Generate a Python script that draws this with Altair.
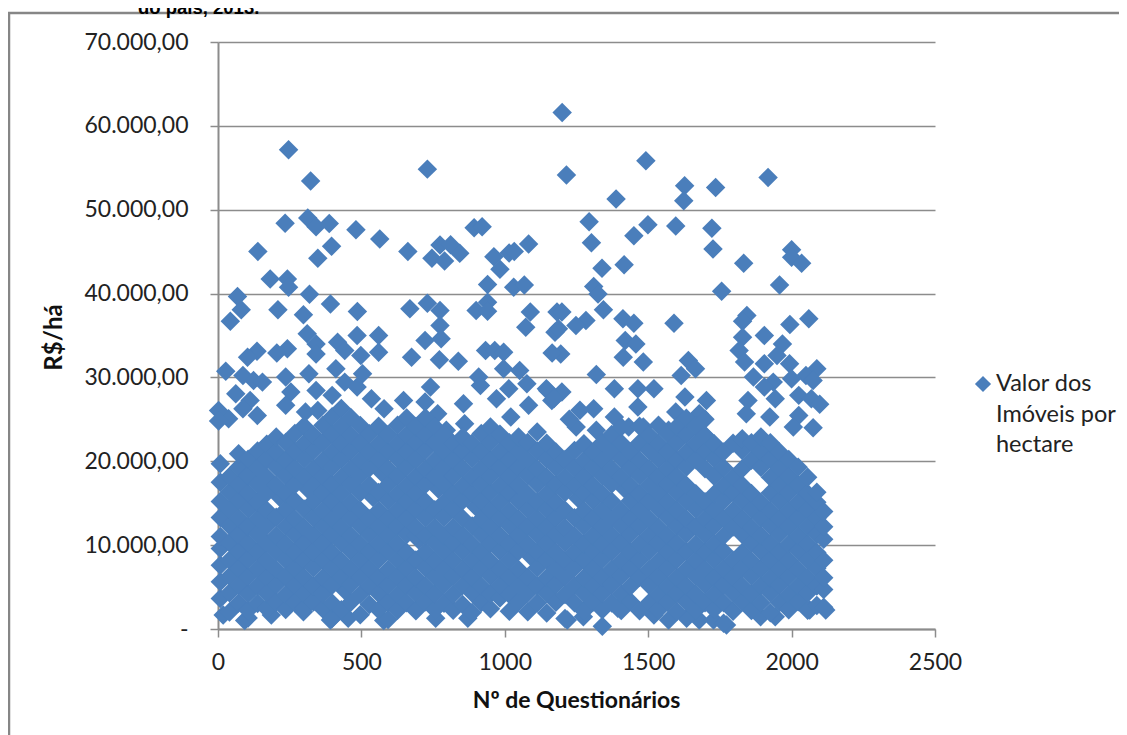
import altair as alt
import pandas as pd

SPARSE_X = [246,323,730,1200,1215,234,313,342,388,481,564,139,396,348,662,774,746,790,811,843,893,921,962,983,1015,1033,1083,940,1031,1068,
68,81,43,182,242,246,319,209,298,392,486,669,730,774,774,900,940,940,1089,1073,1182,
1492,1388,1627,1735,1918,1624,1294,1499,1596,1722,1450,1302,1726,1339,1416,1833,2000,2000,2035,1310,1325,1344,1756,1958,1412,1450,1283,1248,1590,1844,1829,1994,2060,1199,
136,103,242,205,311,342,342,417,442,498,560,560,485,722,778,675,772,838,933,965,996,
27,87,124,155,62,112,87,37,2,2,137,236,254,236,317,342,305,348,411,442,504,485,398,535,741,722,647,579,766,856,796,860,909,915,996,1052,1077,971,1014,1021,1083,1145,1164,
1420,1457,1413,1483,1319,1382,1464,1520,1464,1640,1665,1615,1628,1703,1596,1678,1697,1829,1817,1836,1905,1968,1949,1905,1993,2088,1867,1936,1905,2050,2000,2075,1848,1842,1943,2025,2069,2098,2025,2006,2075,1924,1310,1249,1319,1432,1483,1382,1571,1195,1199,1165,1175,1187,1150,1172,1225,1262,
215,312,540,572,700,768,898,1092,1255,1418,442,
18,93,392,454,578,759,871,298,186,1571,1678,1773,1892,1943,2063,2119,1274,1218,1394,1520,1634,1728]
SPARSE_Y = [57140,53410,54840,61600,54130,48400,49000,47980,48370,47620,46510,45030,45630,44200,45030,45790,44200,43890,45830,44800,47860,47980,44400,42900,44840,45030,45900,41070,40750,41030,
39640,38060,36700,41750,41750,40750,39920,38060,37460,38770,37860,38180,38850,37980,36190,37980,38970,37900,37790,35990,37790,
55830,51270,52860,52660,53850,51070,48570,48210,48060,47780,46900,46070,45320,43010,43450,43610,45240,44320,43610,40830,39960,38060,40270,41030,36990,36460,36790,36190,36460,37380,36700,36310,36990,37790,
33130,32420,33410,32900,35200,34000,32800,34200,33200,32620,33000,35000,35000,34400,34600,32420,32100,31940,33200,33200,33000,
30750,30240,29640,29440,28050,27260,26270,25080,26070,24800,25470,30040,28250,26670,30430,28450,25870,26070,31030,29440,30430,28850,27860,27460,28850,27060,27260,26270,25670,26860,23690,24480,30040,29050,31030,30830,29240,27460,28650,25280,26670,28650,27260,
34400,34000,32420,31830,30360,28650,28650,28650,26470,32020,31030,30240,27660,27260,25870,25670,23090,34800,33200,31830,35000,34000,32620,31630,31630,31030,30040,29440,28850,30240,29840,29640,27260,25670,27460,27860,27460,26790,25470,24090,24010,25280,26270,24090,23690,24090,24090,25280,23690,32800,28250,32900,35400,35800,28400,27500,25000,26100,
15700,16700,15700,18600,10600,16700,14600,8600,15600,16700,4600,
1670,1000,1080,1270,1000,1270,1270,2060,1670,1070,1070,480,1470,1470,2260,2260,1470,1070,2460,1670,1270,1070]

DENSE_X = [8,40,72,105,138,170,203,236,268,300,333,366,398,430,463,496,528,560,593,626,658,690,723,756,788,820,853,886,918,950,983,1016,1048,1080,1113,1146,1178,1210,1243,1276,1308,1340,1373,1406,1438,1470,1503,1536,1568,1600,1633,1666,1698,1730,1763,1796,1828,1860,1893,1926,1958,1990,2023,2056,2088,2112]
DENSE_Y = [
[3650,5620,7600,9610,11040,13300,15210,17500,19700],
[2020,4310,6290,8220,10300,12310,14280,16330,18190],
[3110,5180,7230,9270,11210,13190,15310,17220,19280,20900],
[1320,2210,4190,6240,8280,10230,12210,14300,16190,18310,20240],
[3040,5120,7190,9210,11330,13180,15120,17290,19230,21240],
[2410,4220,6170,8130,10240,12290,14170,16210,18120,20190,22030],
[3230,5280,7110,9240,11120,13320,17130,19310,21090,22900],
[2330,4120,6230,8260,10090,12210,14230,16120,18280,20130,22240],
[3120,5210,7170,9130,11230,13110,15280,17190,19120,21210,23310],
[2480,4210,6130,8190,10220,12090,14310,18120,20280,22110,24200],
[3210,5130,7280,9190,11180,13230,15220,17210,19140,21280,23120],
[2370,4230,6110,8240,10190,12270,14130,16280,18210,20110,22230,24310],
[1240,3110,5210,7230,9130,11290,13120,15190,17240,19310,21120,23210,25300],
[2290,6180,8110,10280,12140,14260,16190,18130,20240,22120,24190,26300],
[3180,5280,7140,9270,11120,13240,15110,17290,19130,21220,23130,25210],
[1710,4120,6230,8190,10110,12280,14170,16240,18300,20120,22190,24270],
[2920,5110,7190,9230,11280,13130,17170,19210,21110,23280],
[2310,4240,6120,8280,10170,12230,14140,16290,20210,22120,24180],
[1130,3180,5230,7110,9290,11210,13140,15280,17190,19120,21230,23190],
[2240,4110,6270,8190,10130,12290,14180,16110,18240,20280,22130,24300],
[3120,5190,7240,9110,11280,13170,15230,17120,19290,21180,23120,25150],
[2190,4280,6130,8230,11180,12140,14290,16170,18130,20220,22280,24160],
[3240,5110,7290,9170,11130,13280,15190,17240,19110,21290,23170,25200],
[2310,4170,6240,8120,10290,12130,14210,18190,20130,22240,24120],
[3080,5280,7130,9220,11110,13290,15120,17210,19280,21130,23220],
[2240,4120,6290,8170,10230,12110,14280,16130,18240,20170,22110],
[2910,5190,7110,9280,11140,13210,15290,17120,19180,21240,22900],
[1970,4280,6140,8210,10120,12280,16190,18110,20290,22140],
[3150,5110,7230,9140,11290,13130,15220,17280,19130,21210,23300],
[2420,4190,6280,8110,10240,12170,14130,16280,18210,20110,22280,24100],
[3700,5230,7130,9290,11110,13240,15180,17110,19290,21170,23220],
[2120,4110,6240,8190,10130,12280,14110,16240,18180,20130,22210],
[3240,5190,7110,9280,11170,13110,15280,17130,19240,21180,22900],
[2060,4280,6170,10120,12230,14290,16110,18290,20140,22230],
[3110,5120,7290,9140,11230,13170,15110,17280,19110,21240,23500],
[1900,4230,6110,8280,10190,12130,14280,16170,18110,20280,22150],
[3190,5280,7170,9120,11290,13230,15120,17190,19280,21120],
[1260,4110,6230,8130,10280,12110,14170,16280,18130,20210],
[3120,5170,7290,9180,11110,13280,17120,19230,21290],
[2140,4280,6110,8230,10170,12280,14110,16240,18170,20130,22100],
[3210,5130,7180,9290,11120,13170,15280,17110,19290,21150],
[340,2300,4240,6130,8290,10110,12230,14170,16120,18280,20180,22240],
[3110,5290,7120,9230,11180,13110,15240,17290,19120,21230,23200],
[2210,4170,6280,8110,10230,12290,14130,18110,20280,22180,24100],
[3280,5110,7230,9170,11290,13140,15280,17120,19230,21110],
[2190,6170,8240,10120,12280,14170,16110,18290,20130,22210,24180],
[3140,5230,7110,9290,11180,13110,15240,17170,19110,21290,23120],
[2280,4120,6190,8130,10270,12110,14280,16190,18120,20240,22110,24300],
[3210,5110,7280,9170,11110,13290,15140,17280,19130,21180,23270],
[2110,4230,6140,8290,10180,12240,14120,16290,18170,20110,22240,24110],
[3290,5170,7120,9230,11290,13110,15230,17140,19290,21120,23180,25120],
[2250,4110,6280,8170,10110,12230,14290,16120,20180,22130,24240],
[3120,5290,7130,9180,11240,13120,15170,19110,21230,23110,25000],
[2340,4180,6110,8260,10130,12280,14190,16110,18230,20290,22100],
[700,3140,5240,7170,9290,11120,13180,15280,17110,19230,21120],
[2120,4280,6130,8190,12170,14110,16280,18140,22160],
[3240,5110,7230,9110,11280,13140,15230,17180,19110,21280,22700],
[2200,4170,6290,8120,10240,12110,14280,16170,20130,22210],
[3110,5190,7170,9280,11130,13240,15110,19290,21180,22900],
[1950,4280,6110,8230,10190,12280,14130,16240,18110,20280,22200],
[3170,5240,7130,9180,11290,13110,15280,17130,19210,21100],
[2300,4110,6280,8170,10110,12230,14170,16290,18180,20220],
[3240,5170,7110,9290,11120,13280,15140,17210,19300],
[2230,4290,6120,8240,10130,12180,14290,16170,18110],
[2800,5130,7240,9120,11280,13190,15120,16300],
[2600,4700,6100,8200,10700,12200,14000]]

rows = [{"n": x, "v": y} for x, y in zip(SPARSE_X, SPARSE_Y)]
for x, ys in zip(DENSE_X, DENSE_Y):
    rows += [{"n": x, "v": y} for y in ys]
data = pd.DataFrame(rows)

Y_TICKS = [0, 10000, 20000, 30000, 40000, 50000, 60000, 70000]
X_TICKS = [0, 500, 1000, 1500, 2000, 2500]
LEGEND_LINES = ["Valor dos", "Imóveis por", "hectare"]
TITLE_TAIL = "do país, 2013."
AXIS_FONT = "Lato"
BLUE = "#4A7EBB"
GRID = "#8C8C8C"

base = alt.Chart(data)
points = base.mark_point(shape="diamond", filled=True, size=380, color=BLUE, opacity=1, strokeWidth=0).encode(
    x=alt.X("n:Q", scale=alt.Scale(domain=[0, 2500], nice=False),
            axis=alt.Axis(values=X_TICKS, grid=False, title="Nº de Questionários", titleFont=AXIS_FONT,
                          titleFontSize=23, titleFontWeight="bold", titleColor="#111",
                          titleX=358, titleY=60, labelFont=AXIS_FONT, labelFontSize=23, labelColor="#222",
                          labelPadding=14, tickSize=8, tickColor=GRID, domainColor=GRID, tickWidth=1.5,
                          domainWidth=2, labelFlush=False, format="d")),
    y=alt.Y("v:Q", scale=alt.Scale(domain=[0, 70000], nice=False),
            axis=alt.Axis(values=Y_TICKS, grid=True, gridColor=GRID, gridWidth=1.5, title="R$/há",
                          titleFont=AXIS_FONT, titleFontSize=24, titleFontWeight="bold", titleColor="#111",
                          titleX=-152, titleY=295, labelFont=AXIS_FONT, labelFontSize=23, labelColor="#222",
                          labelPadding=22, tickSize=8, tickColor=GRID, domainColor=GRID, tickWidth=1.5,
                          domainWidth=2,
                          labelExpr="datum.value == 0 ? '-\u00a0\u00a0\u00a0\u00a0' : format(datum.value / 1000, 'd') + '.000,00'")),
)

one = alt.Chart(pd.DataFrame({"a": [0]}))
frame_top = one.mark_rule(color="#868686", strokeWidth=2.5).encode(
    x=alt.value(-210), x2=alt.value(901), y=alt.value(-29))
frame_left = one.mark_rule(color="#868686", strokeWidth=2.5).encode(
    x=alt.value(-209), y=alt.value(-30), y2=alt.value(693))
title_tail = one.mark_text(font="Liberation Sans", fontWeight="bold", fontSize=18.5, align="left", color="#000").encode(
    x=alt.value(-80), y=alt.value(-34), text=alt.value(TITLE_TAIL))
legend_symbol = one.mark_point(shape="diamond", filled=True, size=260, color=BLUE, opacity=1, strokeWidth=0).encode(
    x=alt.value(765), y=alt.value(342))
legend_texts = [
    one.mark_text(font=AXIS_FONT, fontSize=23.5, align="left", baseline="middle", color="#222").encode(
        x=alt.value(778), y=alt.value(342 + i * 30.5), text=alt.value(line))
    for i, line in enumerate(LEGEND_LINES)
]

chart = alt.layer(points, frame_top, frame_left, title_tail, legend_symbol, *legend_texts).properties(
    width=717, height=587,
    padding={"left": 210, "top": 34, "right": 184, "bottom": 106},
    autosize=alt.AutoSizeParams(type="none"),
    background="white",
).configure_view(stroke=None)

chart.save("out.html", embed_options={"renderer": "svg", "actions": False})
